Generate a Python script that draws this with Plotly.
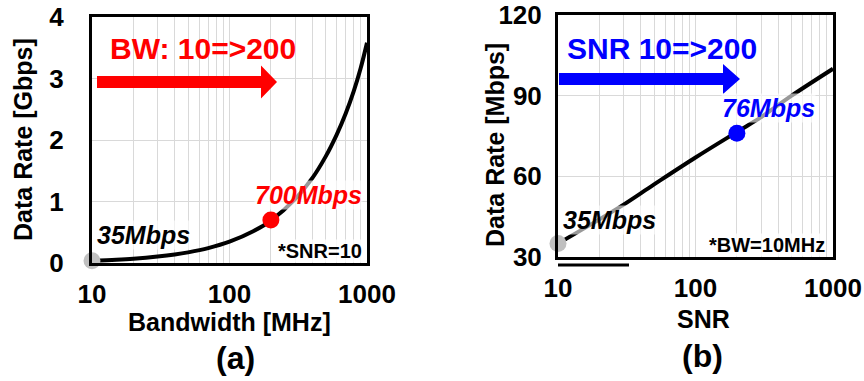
import plotly.graph_objects as go

# ---- data ----
bw_mhz = [10, 15, 20, 30, 40, 50, 70, 100, 150, 200, 300, 400, 500, 600, 700, 800, 900, 1000]
rate_gbps = [0.035, 0.052, 0.069, 0.104, 0.138, 0.173, 0.242, 0.346, 0.52, 0.69,
             1.04, 1.38, 1.73, 2.08, 2.43, 2.79, 3.17, 3.58]
snr = [10, 20, 30, 50, 100, 200, 300, 500, 1000]
rate_mbps = [35, 44, 49.5, 57, 67, 76.5, 82, 90, 100]

bw_points = [10, 200]
bw_point_rates = [0.035, 0.70]
snr_points = [10, 200]
snr_point_rates = [35, 76]

x_ticks = [10, 20, 30, 40, 50, 60, 70, 80, 90, 100, 200, 300, 400, 500, 600, 700, 800, 900, 1000]
x_ticktext = [str(v) if v in (10, 100, 1000) else "" for v in x_ticks]
left_yticks = [0, 1, 2, 3, 4]
right_yticks = [30, 60, 90, 120]

W, H = 864, 381
def px(x):
    return x / W
def py(y):
    return 1 - y / H

FONT = "Liberation Sans, Arial, sans-serif"
RED = "#ff0000"
BLUE = "#0000ff"
GRAY = "#c0c0c0"

fig = go.Figure()

fig.add_trace(go.Scatter(x=bw_mhz, y=rate_gbps, mode="lines", line=dict(color="black", width=4, shape="spline"),
                         xaxis="x", yaxis="y", showlegend=False, hoverinfo="skip"))
fig.add_trace(go.Scatter(x=bw_points, y=bw_point_rates, mode="markers",
                         marker=dict(color=[GRAY, RED], size=17), cliponaxis=False,
                         xaxis="x", yaxis="y", showlegend=False))
fig.add_trace(go.Scatter(x=snr, y=rate_mbps, mode="lines", line=dict(color="black", width=4, shape="spline"),
                         xaxis="x2", yaxis="y2", showlegend=False, hoverinfo="skip"))
fig.add_trace(go.Scatter(x=snr_points, y=snr_point_rates, mode="markers",
                         marker=dict(color=[GRAY, BLUE], size=17), cliponaxis=False,
                         xaxis="x2", yaxis="y2", showlegend=False))

tickfont = dict(family=FONT, size=26, color="black", weight="bold")
common_x = dict(type="log", range=[1, 3], tickvals=x_ticks, ticktext=x_ticktext,
                showgrid=True, gridcolor="#d9d9d9", gridwidth=1,
                showline=True, linecolor="black", linewidth=3, mirror=True,
                ticks="outside", ticklen=6, tickcolor="rgba(0,0,0,0)",
                tickfont=tickfont, zeroline=False, automargin=False)

fig.update_layout(
    width=W, height=H, margin=dict(l=0, r=0, t=0, b=0, autoexpand=False),
    paper_bgcolor="white", plot_bgcolor="white",
    xaxis=dict(domain=[px(92), px(367)], anchor="y", **common_x),
    yaxis=dict(domain=[py(263), py(17)], anchor="x", range=[0, 4], tickvals=left_yticks,
               showgrid=True, gridcolor="#d9d9d9", showline=True, linecolor="black", linewidth=3,
               mirror=True, ticks="outside", ticklen=20, tickcolor="rgba(0,0,0,0)",
               tickfont=tickfont, zeroline=False, automargin=False),
    xaxis2=dict(domain=[px(558), px(833)], anchor="y2", **common_x),
    yaxis2=dict(domain=[py(257), py(15)], anchor="x2", range=[30, 120], tickvals=right_yticks,
                showgrid=True, gridcolor="#d9d9d9", showline=True, linecolor="black", linewidth=3,
                mirror=True, ticks="outside", ticklen=8, tickcolor="rgba(0,0,0,0)",
                tickfont=tickfont, zeroline=False, automargin=False),
)

def ann(text, x, y, size, color="black", xanchor="center", italic=False, angle=0, bg=None):
    t = f"<b>{text}</b>"
    if italic:
        t = f"<i>{t}</i>"
    d = dict(text=t, x=px(x), y=py(y), xref="paper", yref="paper", showarrow=False,
             xanchor=xanchor, yanchor="middle", textangle=angle,
             font=dict(family=FONT, size=size, color=color))
    if bg:
        d["bgcolor"] = bg
        d["borderpad"] = 0
    fig.add_annotation(**d)

# axis titles & panel labels
ann("Bandwidth [MHz]", 229, 322, 25)
ann("Data Rate [Gbps]", 23, 140, 25, angle=-90)
ann("(a)", 235, 358, 32)
ann("SNR", 703, 319, 25)
ann("Data Rate [Mbps]", 495, 145, 25, angle=-90)
ann("(b)", 702, 356, 32)

# in-plot labels
ann("BW: 10=>200", 108, 48, 30, color=RED, xanchor="left")
ann("35Mbps", 96, 235, 25, italic=True, xanchor="left", bg="rgba(255,255,255,0.6)")
ann("700Mbps", 254, 195, 25, color=RED, italic=True, xanchor="left", bg="rgba(255,255,255,0.6)")
ann("*SNR=10", 363, 251, 20, xanchor="right", bg="rgba(255,255,255,0.8)")
ann("SNR 10=>200", 565, 48, 30, color=BLUE, xanchor="left")
ann("35Mbps", 562, 220, 25, italic=True, xanchor="left", bg="rgba(255,255,255,0.6)")
ann("76Mbps", 721, 108, 25, color=BLUE, italic=True, xanchor="left", bg="rgba(255,255,255,0.6)")
ann("*BW=10MHz", 826, 245, 20, xanchor="right", bg="rgba(255,255,255,0.8)")

def arrow(x0, x_head, x_tip, y_mid, shaft_h, head_h, color):
    pts = [(x0, y_mid - shaft_h / 2), (x_head, y_mid - shaft_h / 2), (x_head, y_mid - head_h / 2),
           (x_tip, y_mid), (x_head, y_mid + head_h / 2), (x_head, y_mid + shaft_h / 2),
           (x0, y_mid + shaft_h / 2)]
    path = "M " + " L ".join(f"{px(a):.5f},{py(b):.5f}" for a, b in pts) + " Z"
    fig.add_shape(type="path", path=path, xref="paper", yref="paper",
                  fillcolor=color, line=dict(width=0), layer="above")

arrow(97, 261, 277, 82, 12, 33, RED)
arrow(559, 723, 740, 79, 12, 30, BLUE)

# short black line under right panel
fig.add_shape(type="line", x0=px(558), x1=px(629), y0=py(265), y1=py(265),
              xref="paper", yref="paper", line=dict(color="black", width=3))

fig.write_html("out.html")
